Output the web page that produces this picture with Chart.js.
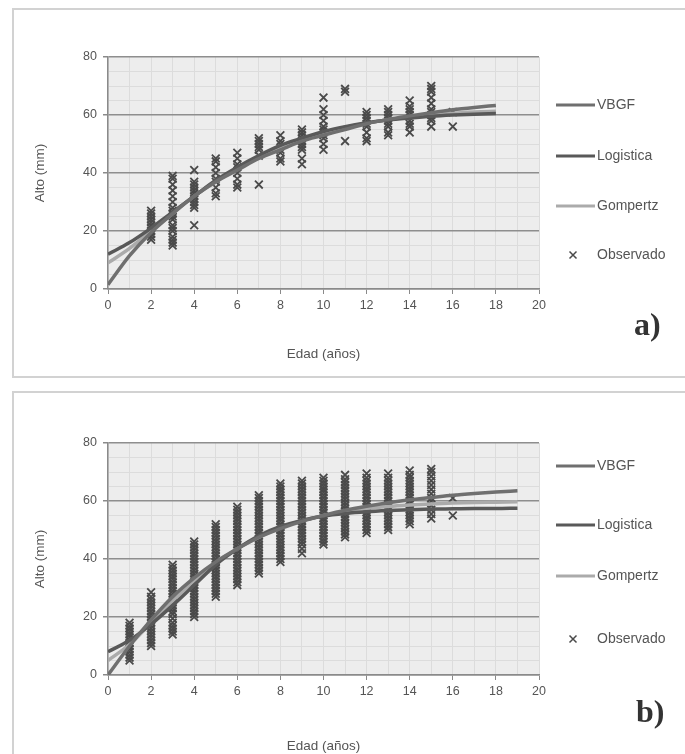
<!DOCTYPE html>
<html>
<head>
<meta charset="utf-8">
<script src="https://cdn.jsdelivr.net/npm/chart.js@4/dist/chart.umd.min.js"></script>
<style>
  html, body { margin: 0; padding: 0; background: #fff; overflow: hidden; width: 685px; height: 754px; }
  .frame { position: absolute; border-left: 2px solid #d2d2d2; border-top: 2px solid #d2d2d2; }
  #frameA { left: 12px; top: 8px; width: 700px; height: 366px; border-bottom: 2px solid #d2d2d2; }
  #frameB { left: 12px; top: 391px; width: 700px; height: 400px; }
  .wrap { position: absolute; left: 0; width: 720px; }
  #wrapA { top: 0; height: 380px; }
  #wrapB { top: 386px; height: 368px; }
  .tag { position: absolute; font: bold 32px "Liberation Serif", "DejaVu Serif", serif; color: #333; line-height: 32px; }
</style>
</head>
<body>
<div class="frame" id="frameA"></div>
<div class="frame" id="frameB"></div>
<div class="wrap" id="wrapA"><canvas id="chartA"></canvas></div>
<div class="wrap" id="wrapB"><canvas id="chartB"></canvas></div>
<div class="tag" style="left:634px; top:308px;">a)</div>
<div class="tag" style="left:636px; top:695px;">b)</div>
<script>
// ---- panel a) observed heights by age ----
const obsAgesA = [2, 3, 4, 5, 6, 7, 8, 9, 10, 11, 12, 13, 14, 15, 16];
const obsAltoA = [
  [17, 18, 19, 20, 21, 22, 23, 24, 25, 26, 27],
  [15, 16, 17, 18, 20, 21, 22, 24, 25, 26, 27, 28, 30, 32, 34, 36, 38, 39],
  [22, 28, 29, 30, 31, 32, 33, 34, 35, 36, 37, 41],
  [32, 33, 35, 37, 38, 40, 42, 44, 45],
  [35, 36, 38, 40, 42, 43, 45, 47],
  [36, 46, 48, 49, 50, 51, 52],
  [44, 45, 47, 48, 50, 51, 53],
  [43, 45, 48, 49, 50, 51, 52, 53, 54, 55],
  [48, 50, 52, 53, 54, 55, 56, 58, 60, 62, 66],
  [51, 68, 69],
  [51, 52, 54, 56, 57, 58, 59, 60, 61],
  [53, 54, 56, 57, 58, 59, 60, 61, 62],
  [54, 56, 57, 58, 60, 61, 62, 63, 65],
  [56, 58, 59, 60, 61, 62, 64, 66, 68, 69, 70],
  [56, 61]
];
// fitted curves, panel a)
const curveAgesA = [0, 1, 2, 3, 4, 5, 6, 7, 8, 9, 10, 11, 12, 13, 14, 15, 16, 17, 18];
const vbgfA      = [1.5, 11.5, 19.5, 26, 32, 37, 41, 45, 48, 51, 53, 55, 57, 58.5, 59.7, 60.8, 61.8, 62.6, 63.3];
const logisticaA = [12, 16, 21, 26.5, 32, 37.5, 42, 46, 49.5, 52, 54.3, 56, 57.3, 58.3, 59, 59.6, 60, 60.3, 60.5];
const gompertzA  = [9, 14, 20, 26, 32, 37, 41.5, 45.5, 49, 51.8, 54, 55.8, 57.2, 58.4, 59.3, 60, 60.6, 61, 61.3];

// ---- panel b) observed heights by age ----
const obsAgesB = [1, 2, 3, 4, 5, 6, 7, 8, 9, 10, 11, 12, 13, 14, 15, 16];
const obsAltoB = [
  [5, 6, 7, 8, 9, 10, 11, 12, 13, 14, 15, 16, 17, 18],
  [10, 11, 12, 13, 14, 15, 16, 17, 18, 19, 20, 21, 22, 23, 24, 25, 26, 27, 28.5],
  [14, 15, 16, 17, 18, 19.5, 21, 22, 23, 24, 25, 26, 27, 28, 29, 30, 31, 32, 33, 34, 35, 36, 37, 38],
  [20, 21, 22, 23, 24, 25, 26, 27, 28, 29, 30, 31, 32, 33, 34, 35, 36, 37, 38, 39, 40, 41, 42, 43, 44, 45, 46],
  [27, 28, 29, 30, 31, 32, 33, 34, 35, 36, 37, 38, 39, 40, 41, 42, 43, 44, 45, 46, 47, 48, 49, 50, 51, 52],
  [31, 32, 33, 34, 35, 36, 37, 38, 39, 40, 41, 42, 43, 44, 45, 46, 47, 48, 49, 50, 51, 52, 53, 54, 55, 56, 57, 58],
  [35, 36, 37, 38, 39, 40, 41, 42, 43, 44, 45, 46, 47, 48, 49, 50, 51, 52, 53, 54, 55, 56, 57, 58, 59, 60, 61, 62],
  [39, 40, 41, 42, 43, 44, 45, 46, 47, 48, 49, 50, 51, 52, 53, 54, 55, 56, 57, 58, 59, 60, 61, 62, 63, 64, 65, 66],
  [42, 43.5, 45, 46, 47, 48, 49, 50, 51, 52, 53, 54, 55, 56, 57, 58, 59, 60, 61, 62, 63, 64, 65, 66, 67],
  [45, 46, 47, 48, 49, 50, 51, 52, 53, 54, 55, 56, 57, 58, 59, 60, 61, 62, 63, 64, 65, 66, 67, 68],
  [47.5, 48.5, 49.5, 50.5, 51.5, 52.5, 53.5, 54.5, 55.5, 56.5, 57.5, 58.5, 59.5, 60.5, 61.5, 62.5, 63.5, 64.5, 65.5, 66.5, 67.5, 69],
  [49, 50, 51, 52, 53, 54, 55, 56, 57, 58, 59, 60, 61, 62, 63, 64, 65, 66, 67, 68, 69.5],
  [50, 51, 52, 53, 54, 55, 56, 57, 58, 59, 60, 61, 62, 63, 64, 65, 66, 67, 68, 69.5],
  [52, 53, 54, 55, 56, 57, 58, 59, 60, 61, 62, 63, 64, 65, 66, 67, 68, 69, 70.5],
  [54, 55.5, 57, 58.5, 60, 61, 62.5, 64, 65.5, 67, 68.5, 70, 71],
  [55, 61]
];
// fitted curves, panel b)
const curveAgesB = [0, 1, 2, 3, 4, 5, 6, 7, 8, 9, 10, 11, 12, 13, 14, 15, 16, 17, 18, 19];
const vbgfB      = [0, 10, 19, 27, 33.5, 39, 43.5, 47.5, 50.5, 53, 55, 56.8, 58.2, 59.4, 60.4, 61.2, 62, 62.6, 63.1, 63.5];
const logisticaB = [8, 12, 17.5, 24, 31, 38, 43.5, 48, 51.2, 53.3, 54.8, 55.7, 56.3, 56.7, 57, 57.2, 57.3, 57.4, 57.4, 57.5];
const gompertzB  = [5, 10.5, 18, 25.5, 32.5, 38.5, 43.5, 47.5, 50.8, 53.2, 55, 56.4, 57.4, 58.1, 58.6, 59, 59.3, 59.5, 59.6, 59.7];

const seriesNames = ['VBGF', 'Logistica', 'Gompertz', 'Observado'];
const lineColors = ['#6f6f6f', '#595959', '#ababab'];
const markColor = '#4a4a4a';
const textColor = '#555555';
const FONT = '"Liberation Sans", Arial, sans-serif';

function toPoints(xs, ys) {
    return xs.map((x, i) => ({ x: x, y: ys[i] }));
}

function obsPoints(ages, values) {
    const pts = [];
    ages.forEach((a, i) => {
        values[i].forEach(v => pts.push({ x: a, y: v }));
    });
    return pts;
}

// grey plot background
const plotBg = {
    id: 'plotBg',
    beforeDraw(chart) {
        const { ctx, chartArea: a } = chart;
        ctx.save();
        ctx.fillStyle = '#ededed';
        ctx.fillRect(a.left, a.top, a.right - a.left, a.bottom - a.top);
        ctx.restore();
    }
};

// legend to the right, like the excel one
const sideLegend = {
    id: 'sideLegend',
    afterDraw(chart, args, opts) {
        const { ctx, chartArea } = chart;
        ctx.save();
        ctx.font = '14px ' + FONT;
        ctx.textBaseline = 'middle';
        chart.data.datasets.forEach((ds, i) => {
            const y = chartArea.top + opts.rows[i];
            const x0 = chartArea.right + 17;
            if (ds.showLine) {
                ctx.strokeStyle = ds.borderColor;
                ctx.lineWidth = 3;
                ctx.beginPath();
                ctx.moveTo(x0, y);
                ctx.lineTo(x0 + 39, y);
                ctx.stroke();
            } else {
                ctx.strokeStyle = ds.borderColor;
                ctx.lineWidth = 1.5;
                const cx = x0 + 17, r = 3.5;
                ctx.beginPath();
                ctx.moveTo(cx - r, y - r); ctx.lineTo(cx + r, y + r);
                ctx.moveTo(cx - r, y + r); ctx.lineTo(cx + r, y - r);
                ctx.stroke();
            }
            ctx.fillStyle = textColor;
            ctx.fillText(ds.label, x0 + 41, y);
        });
        ctx.restore();
    }
};

function makeChart(id, curveAges, vbgf, logistica, gompertz, obsAges, obsAlto, legendRows, xAxisH, xTitleBottom) {
    const curves = [vbgf, logistica, gompertz];
    const datasets = curves.map((c, i) => ({
        label: seriesNames[i],
        data: toPoints(curveAges, c),
        showLine: true,
        borderColor: lineColors[i],
        backgroundColor: lineColors[i],
        borderWidth: 3.5,
        pointRadius: 0,
        cubicInterpolationMode: 'monotone',
        order: 1
    }));
    datasets.push({
        label: seriesNames[3],
        data: obsPoints(obsAges, obsAlto),
        showLine: false,
        borderColor: markColor,
        backgroundColor: markColor,
        pointStyle: 'crossRot',
        pointRadius: 5.5,
        borderWidth: 1.8,
        order: 2
    });

    return new Chart(document.getElementById(id), {
        type: 'scatter',
        data: { datasets: datasets },
        options: {
            responsive: true,
            maintainAspectRatio: false,
            animation: false,
            layout: { padding: { left: 0, right: 181, top: 57, bottom: 0 } },
            plugins: {
                legend: { display: false },
                tooltip: { enabled: false },
                sideLegend: { rows: legendRows }
            },
            scales: {
                x: {
                    type: 'linear',
                    min: 0,
                    max: 20,
                    afterFit: s => { s.height = xAxisH; },
                    ticks: {
                        stepSize: 1,
                        autoSkip: false,
                        maxRotation: 0,
                        padding: 4,
                        color: textColor,
                        font: { family: FONT, size: 12.5 },
                        callback: v => (v % 2 === 0 ? v : '')
                    },
                    grid: {
                        color: '#dcdcdc',
                        lineWidth: 1,
                        tickLength: 5,
                        tickColor: c => (c.tick && c.tick.value % 2 === 0 ? '#8a8a8a' : 'rgba(0,0,0,0)')
                    },
                    border: { color: '#8a8a8a', width: 1.5 },
                    title: {
                        display: true,
                        text: 'Edad (años)',
                        color: textColor,
                        font: { family: FONT, size: 13.5 },
                        padding: { top: 0, bottom: xTitleBottom }
                    }
                },
                y: {
                    min: 0,
                    max: 80,
                    afterFit: s => { s.width = 108; },
                    ticks: {
                        stepSize: 5,
                        autoSkip: false,
                        padding: 6,
                        color: textColor,
                        font: { family: FONT, size: 12.5 },
                        callback: v => (v % 20 === 0 ? v : '')
                    },
                    grid: {
                        color: c => (c.tick && c.tick.value % 20 === 0 ? '#8e8e8e' : '#dcdcdc'),
                        lineWidth: c => (c.tick && c.tick.value % 20 === 0 ? 1.5 : 1),
                        tickLength: 5,
                        tickColor: c => (c.tick && c.tick.value % 20 === 0 ? '#8a8a8a' : 'rgba(0,0,0,0)')
                    },
                    border: { color: '#8a8a8a', width: 1.5 },
                    title: {
                        display: true,
                        text: 'Alto (mm)',
                        color: textColor,
                        font: { family: FONT, size: 13.5 },
                        padding: { top: 32, bottom: 0 }
                    }
                }
            }
        },
        plugins: [plotBg, sideLegend]
    });
}

makeChart('chartA', curveAgesA, vbgfA, logisticaA, gompertzA, obsAgesA, obsAltoA, [48, 99, 149, 198], 91, 18);
makeChart('chartB', curveAgesB, vbgfB, logisticaB, gompertzB, obsAgesB, obsAltoB, [23, 82, 133, 196], 79, 0);
</script>
</body>
</html>
